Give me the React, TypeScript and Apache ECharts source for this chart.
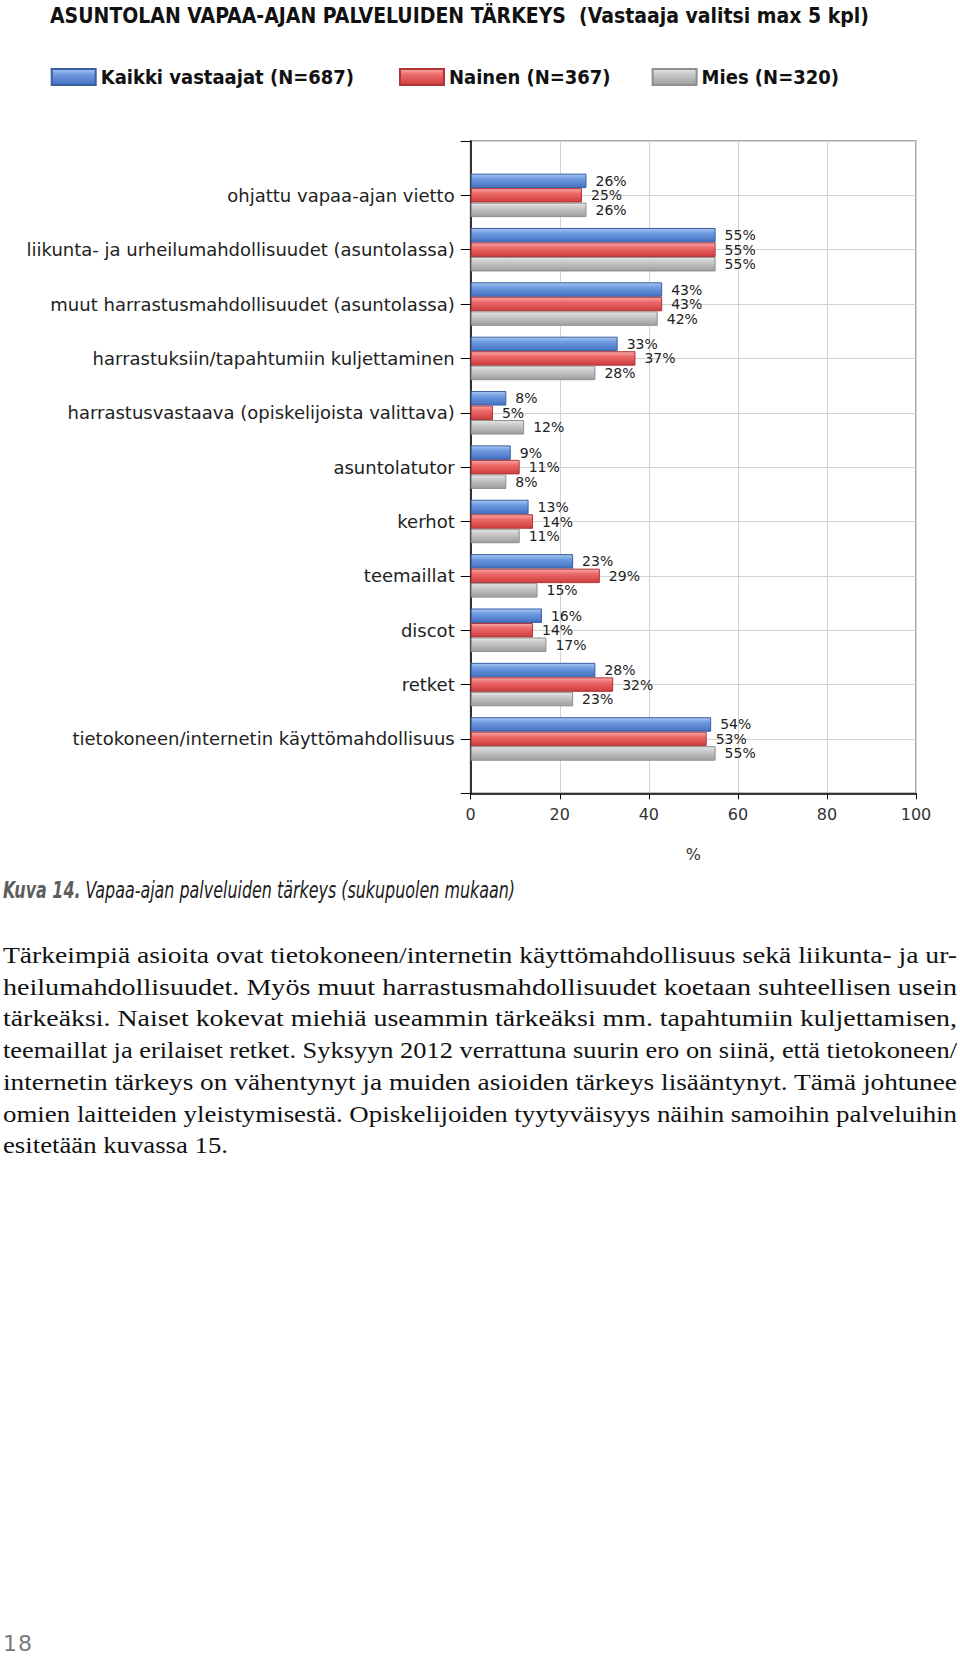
import React, { useEffect, useLayoutEffect, useRef, useState } from "react";
import * as echarts from "echarts";

const titleText = "ASUNTOLAN VAPAA-AJAN PALVELUIDEN TÄRKEYS\u00a0\u00a0(Vastaaja valitsi max 5 kpl)";
const categories = [
  "ohjattu vapaa-ajan vietto",
  "liikunta- ja urheilumahdollisuudet (asuntolassa)",
  "muut harrastusmahdollisuudet (asuntolassa)",
  "harrastuksiin/tapahtumiin kuljettaminen",
  "harrastusvastaava (opiskelijoista valittava)",
  "asuntolatutor",
  "kerhot",
  "teemaillat",
  "discot",
  "retket",
  "tietokoneen/internetin käyttömahdollisuus",
];
const seriesNames = ["Kaikki vastaajat (N=687)", "Nainen (N=367)", "Mies (N=320)"];
const kaikki = [26, 55, 43, 33, 8, 9, 13, 23, 16, 28, 54];
const nainen = [25, 55, 43, 37, 5, 11, 14, 29, 14, 32, 53];
const mies = [26, 55, 42, 28, 12, 8, 11, 15, 17, 23, 55];
const xMin = 0;
const xMax = 100;
const xStep = 20;
const xName = "%";

const captionBold = "Kuva 14.";
const captionRest = " Vapaa-ajan palveluiden tärkeys (sukupuolen mukaan)";
const bodyLines = [
  "Tärkeimpiä asioita ovat tietokoneen/internetin käyttömahdollisuus sekä liikunta- ja ur-",
  "heilumahdollisuudet. Myös muut harrastusmahdollisuudet koetaan suhteellisen usein",
  "tärkeäksi. Naiset kokevat miehiä useammin tärkeäksi mm. tapahtumiin kuljettamisen,",
  "teemaillat ja erilaiset retket. Syksyyn 2012 verrattuna suurin ero on siinä, että tietokoneen/",
  "internetin tärkeys on vähentynyt ja muiden asioiden tärkeys lisääntynyt. Tämä johtunee",
  "omien laitteiden yleistymisestä. Opiskelijoiden tyytyväisyys näihin samoihin palveluihin",
  "esitetään kuvassa 15.",
];
const pageNumber = "18";

const grad = (stops: [number, string][]) =>
  new echarts.graphic.LinearGradient(0, 0, 0, 1, stops.map(([offset, color]) => ({ offset, color })));

const seriesStyles = [
  { color: grad([[0, "#a9c6f2"], [0.35, "#6f9be0"], [1, "#4470c2"]]), border: "#3a5f9f" },
  { color: grad([[0, "#f9aaaa"], [0.35, "#ec6a6a"], [1, "#cf3c3c"]]), border: "#b03636" },
  { color: grad([[0, "#e6e6e6"], [0.35, "#c8c8c8"], [1, "#9e9e9e"]]), border: "#8e8e8e" },
];

const legendLefts = [50.7, 399, 651.6];
const condensed = "'Liberation Sans Narrow', 'DejaVu Sans Condensed', 'Arial Narrow', sans-serif";

function Chart() {
  const ref = useRef<HTMLDivElement>(null);
  useEffect(() => {
    if (!ref.current) return;
    const chart = echarts.init(ref.current, undefined, { renderer: "svg" });
    const pad = (arr: number[]) => ["-", ...arr, "-"];
    const data = [kaikki, nainen, mies];
    chart.setOption({
      animation: false,
      title: {
        text: titleText,
        left: 50,
        top: 5,
        padding: 0,
        textStyle: { fontFamily: condensed, fontWeight: "bold", fontSize: 21, color: "#111" },
      },
      legend: seriesNames.map((n, i) => ({
        data: [n],
        left: legendLefts[i],
        top: 67,
        padding: 0,
        itemWidth: 44,
        itemHeight: 16,
        icon: "rect",
        textStyle: { fontFamily: condensed, fontWeight: "bold", fontSize: 20, color: "#111" },
      })),
      grid: {
        left: 470.7,
        right: 44,
        top: 141,
        bottom: 870 - 793.3,
        show: true,
        borderColor: "#a9a9a9",
        borderWidth: 2,
      },
      xAxis: {
        type: "value",
        min: xMin,
        max: xMax,
        interval: xStep,
        name: xName,
        nameLocation: "middle",
        nameGap: 53,
        nameTextStyle: { fontFamily: "DejaVu Sans", fontSize: 16, color: "#333" },
        axisLine: { show: true, lineStyle: { color: "#000", width: 1.5 } },
        axisTick: { show: true, length: 6, lineStyle: { color: "#000" } },
        axisLabel: { fontFamily: "DejaVu Sans", fontSize: 16, color: "#333", margin: 13 },
        splitLine: { show: true, lineStyle: { color: "#d2d2d2" } },
      },
      yAxis: {
        type: "category",
        data: ["", ...categories, ""],
        inverse: true,
        boundaryGap: false,
        axisLine: { show: true, lineStyle: { color: "#000", width: 1.5 } },
        axisTick: { show: true, length: 10, lineStyle: { color: "#000" } },
        axisLabel: { interval: 0, fontFamily: "DejaVu Sans", fontSize: 18, color: "#222", margin: 16 },
        splitLine: { show: true, lineStyle: { color: "#d2d2d2" } },
      },
      series: seriesNames.map((n, i) => ({
        type: "bar",
        name: n,
        data: pad(data[i]),
        barWidth: 14.5,
        barGap: "0%",
        itemStyle: { color: seriesStyles[i].color, borderColor: seriesStyles[i].border, borderWidth: 1 },
        label: {
          show: true,
          position: "right",
          distance: 9,
          formatter: "{c}%",
          fontFamily: "DejaVu Sans",
          fontSize: 14,
          lineHeight: 14,
          color: "#222",
        },
      })),
    });
    return () => chart.dispose();
  }, []);
  return <div ref={ref} style={{ position: "absolute", left: 0, top: 0, width: 960, height: 870 }} />;
}

function FitLine({ children, width }: { children: React.ReactNode; width: number }) {
  const ref = useRef<HTMLSpanElement>(null);
  const [s, setS] = useState<number | null>(null);
  useLayoutEffect(() => {
    if (!ref.current || s !== null) return;
    const n = ref.current.getBoundingClientRect().width;
    setS(width / n);
  }, [s, width]);
  return (
    <div style={{ width, whiteSpace: "nowrap" }}>
      <span
        ref={ref}
        style={{
          display: "inline-block",
          whiteSpace: "nowrap",
          transform: s !== null ? `scaleX(${s})` : undefined,
          transformOrigin: "left center",
        }}
      >
        {children}
      </span>
    </div>
  );
}

export default function App() {
  return (
    <div style={{ position: "absolute", left: 0, top: 0, width: 960, height: 1656, background: "#fff", overflow: "hidden" }}>
      <Chart />
      <div
        style={{
          position: "absolute",
          left: 3,
          top: 876,
          fontFamily: condensed,
          fontStyle: "italic",
          fontSize: 23,
          lineHeight: "28px",
          color: "#1a1a1a",
        }}
      >
        <FitLine width={512}>
          <span style={{ fontWeight: "bold", color: "#5e5e5e" }}>{captionBold}</span>
          <span>{captionRest}</span>
        </FitLine>
      </div>
      <div
        style={{
          position: "absolute",
          left: 3,
          top: 940,
          width: 954,
          fontFamily: "'Liberation Serif', 'DejaVu Serif', serif",
          fontSize: 24,
          lineHeight: "31.7px",
          color: "#111",
        }}
      >
        {bodyLines.map((l, i) => (
          <FitLine key={i} width={i < bodyLines.length - 1 ? 954 : 225}>
            {l}
          </FitLine>
        ))}
      </div>
      <div
        style={{
          position: "absolute",
          left: 3,
          top: 1631,
          fontFamily: "'DejaVu Sans', sans-serif",
          fontSize: 22,
          color: "#7a7a7a",
          letterSpacing: 1,
        }}
      >
        {pageNumber}
      </div>
    </div>
  );
}
